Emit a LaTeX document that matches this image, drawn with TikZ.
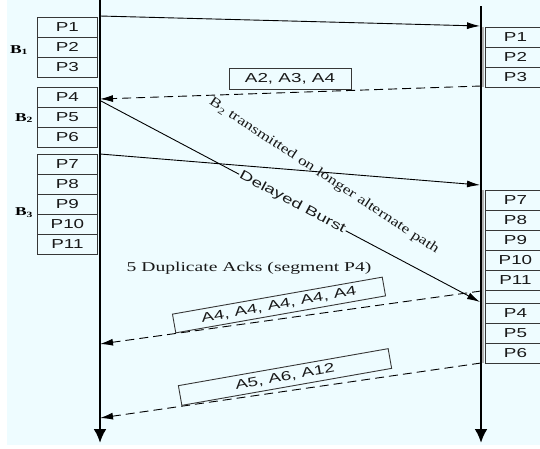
\documentclass[tikz,border=0pt]{standalone}
\usepackage{fontspec}
\setmainfont{Liberation Serif}[FakeStretch=1.45]
\newfontfamily\slantfont{Liberation Serif}[FakeStretch=1.3]
\newfontfamily\pktfont{Liberation Sans}[FakeStretch=1.45]
\usetikzlibrary{arrows.meta}
\definecolor{paper}{RGB}{238,252,255}
\definecolor{edge}{RGB}{55,55,55}
\tikzset{
  pkt/.style={draw=edge, line width=0.9pt, minimum width=60pt, minimum height=20pt,
    inner sep=0pt, anchor=north west, text=black!90, font=\pktfont\fontsize{13}{13}\selectfont},
  timeline/.style={line width=2.6pt, -{Latex[length=14pt,width=13pt]}},
  msg/.style={line width=0.9pt, -{Latex[length=13pt,width=7pt]}},
  ack/.style={msg, dash pattern=on 9pt off 5pt},
  ackbox/.style={draw=edge, line width=0.9pt, inner sep=0pt, text=black!90,
    font=\pktfont\fontsize{13}{13}\selectfont},
  burstlabel/.style={font=\bfseries\fontsize{12}{12}\selectfont, text=black},
  note/.style={font=\fontsize{12.5}{12.5}\selectfont, text=black!90, inner sep=1pt},
  shade/.style={draw=gray!60, line width=2pt}
}
\begin{document}
\begin{tikzpicture}[x=1pt,y=-1pt]
\useasboundingbox (0,0) rectangle (540,448);
\clip (0,0) rectangle (540,448);
\fill[white] (0,0) rectangle (540,448);
\fill[paper] (7,0) rectangle (540,445);

% sender side packets
\node[pkt] (lp1) at (37,16.5) {P1};
\node[pkt] (lp2) at (37,37) {P2};
\node[pkt] (lp3) at (37,57) {P3};
\node[pkt] (lp4) at (37,87) {P4};
\node[pkt] (lp5) at (37,107) {P5};
\node[pkt] (lp6) at (37,127) {P6};
\node[pkt] (lp7) at (37,154) {P7};
\node[pkt] (lp8) at (37,174) {P8};
\node[pkt] (lp9) at (37,194) {P9};
\node[pkt] (lp10) at (37,214) {P10};
\node[pkt] (lp11) at (37,234) {P11};

\node[burstlabel] (b1) at (19,50) {B\textsubscript{1}};
\node[burstlabel] (b2) at (24,118) {B\textsubscript{2}};
\node[burstlabel] (b3) at (24,213) {B\textsubscript{3}};

% receiver side packets
\draw[shade] (483,27) -- (483,87);
\draw[shade] (483,190) -- (483,363);
\node[pkt] (rp1) at (485,27) {P1};
\node[pkt] (rp2) at (485,47) {P2};
\node[pkt] (rp3) at (485,67) {P3};
\node[pkt] (rp7) at (485,190) {P7};
\node[pkt] (rp8) at (485,210) {P8};
\node[pkt] (rp9) at (485,230) {P9};
\node[pkt] (rp10) at (485,250) {P10};
\node[pkt] (rp11) at (485,270) {P11};
\node[pkt, minimum height=13pt] (rgap) at (485,290) {};
\node[pkt] (rp4) at (485,303) {P4};
\node[pkt] (rp5) at (485,323) {P5};
\node[pkt] (rp6) at (485,343) {P6};

% time axes
\coordinate (sTop) at (100,0);
\coordinate (sBot) at (100,443);
\coordinate (rTop) at (481,6);
\coordinate (rBot) at (481,443);
\draw[timeline] (sTop) -- (sBot);
\draw[timeline] (rTop) -- (rBot);

% burst B1
\coordinate (s1) at (100,16);
\coordinate (r1) at (480,26);
\draw[msg] (s1) -- (r1);

% cumulative acks for B1
\coordinate (r3) at (481,86);
\coordinate (s4) at (100,99);
\draw[ack] (r3) -- (s4);
\node[ackbox, minimum width=122pt, minimum height=21pt] (ack1) at (290,78.5) {A2, A3, A4};

% burst B2 on the longer path
\coordinate (s4b) at (101,101);
\coordinate (r4) at (480,302);
\draw[msg] (s4b) -- node[pos=0.505, sloped, fill=paper, inner sep=1pt,
  font=\pktfont\fontsize{13}{13}\selectfont, text=black!90] (delay) {Delayed Burst} (r4);
\node[note, font=\slantfont\fontsize{13.5}{13.5}\selectfont, rotate=-33.4] (alt) at (324,176)
  {B\textsubscript{2} transmitted on longer alternate path};

% burst B3
\coordinate (s7) at (100,154);
\coordinate (r7) at (480,185);
\draw[msg] (s7) -- (r7);

\node[note, font=\fontsize{13.5}{13.5}\selectfont] (dup) at (249,268) {5 Duplicate Acks (segment P4)};

% duplicate acks
\coordinate (r11) at (481,291);
\coordinate (sd) at (100,344);
\draw[ack] (r11) -- (sd);
\node[ackbox, rotate=10, minimum width=213pt, minimum height=19pt] (ack2) at (279,305) {A4, A4, A4, A4, A4};

% acks after the late burst
\coordinate (r6) at (481,363);
\coordinate (sn) at (100,418);
\draw[ack] (r6) -- (sn);
\node[ackbox, rotate=10, minimum width=213pt, minimum height=20pt] (ack3) at (285,377) {A5, A6, A12};
\end{tikzpicture}
\end{document}
